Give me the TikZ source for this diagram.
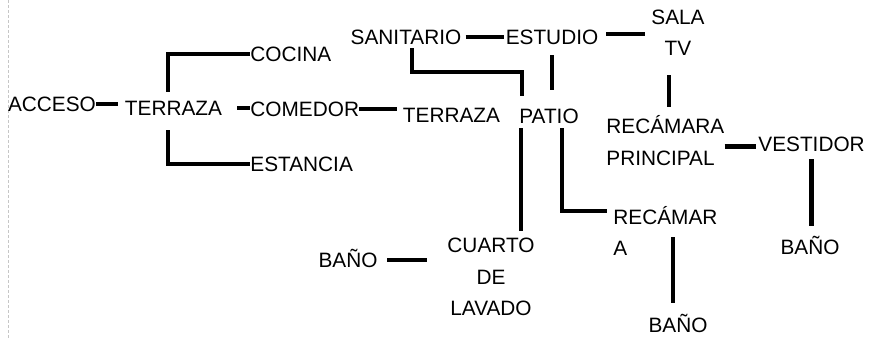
\documentclass[tikz,border=0pt]{standalone}
\usepackage{fontspec}
\setmainfont{Liberation Sans}

\begin{document}
\begin{tikzpicture}[x=0.5pt, y=-0.5pt,
        room/.style={font=\fontsize{10.4}{15.7}\selectfont, inner sep=0pt, align=center},
        one/.style={room, text height=7.45pt, text depth=0pt},
        link/.style={line width=2.2pt, black}
    ]
        \useasboundingbox (0,0) rectangle (873,339);
        \draw[gray!45, line width=0.5pt, dash pattern=on 1.5pt off 1pt] (8,0) -- (8,339);

        % Entrance wing
        \node[one] (acceso) at (52, 104) {ACCESO};
        \node[one] (terrA) at (173.5, 108) {TERRAZA};
        \node[one, anchor=west] (cocina) at (250, 54) {COCINA};
        \node[one, anchor=west] (comedor) at (250, 109) {COMEDOR};
        \node[one, anchor=west] (estancia) at (250, 164) {ESTANCIA};
        \node[one] (terrB) at (451.5, 115) {TERRAZA};

        % Service wing
        \node[one] (sanitario) at (406, 37) {SANITARIO};
        \node[one] (estudio) at (552, 37) {ESTUDIO};
        \node[one] (patio) at (549, 116) {PATIO};
        \node[room] (cuarto) at (491, 277) {CUARTO\\DE\\LAVADO};
        \node[one] (banoL) at (348, 260) {BAÑO};

        % Bedroom wing
        \node[room] (salatv) at (678, 33) {SALA\\TV};
        \node[room, align=left, anchor=west] (recprin) at (606, 140.5) {RECÁMARA\\PRINCIPAL};
        \node[one, anchor=west] (vestidor) at (758, 144) {VESTIDOR};
        \node[one] (banoV) at (810, 247.5) {BAÑO};
        \node[room, align=left, anchor=west] (recamara) at (613, 230.7) {RECÁMAR\\A};
        \node[one] (banoR) at (678, 325) {BAÑO};

        % Connections
        \draw[link, shorten >=3.5pt] (acceso.east) -- (acceso.east -| terrA.west);
        \draw[link, shorten <=4.3pt] ([xshift=-2.75pt]terrA.north) |- (cocina.west);
        \draw[link, shorten <=7.3pt] ([xshift=-2.75pt]terrA.south) |- (estancia.west);
        \draw[link, shorten <=7.5pt] (terrA.east) -- (terrA.east -| comedor.west);
        \draw[link, shorten >=3pt] (comedor.east) -- (comedor.east -| terrB.west);
        \draw[link, shorten <=2pt, shorten >=0.5pt] (sanitario.east) -- (sanitario.east -| estudio.west);
        \draw[link, shorten <=1.8pt, shorten >=6.3pt] ([xshift=3pt]sanitario.south) -- ++(0,27) -| ([xshift=1.5pt]patio.north west);
        \draw[link, shorten <=5.3pt, shorten >=9.3pt] (estudio.south) -- (estudio.south |- patio.north);
        \draw[link, shorten <=3.9pt, shorten >=3.2pt] ([yshift=1.5pt]estudio.east) -- ([yshift=1.5pt]estudio.east -| salatv.west);
        \draw[link, shorten <=9.4pt, shorten >=4.3pt] ([xshift=-4.5pt]salatv.south) -- ([xshift=-4.5pt]salatv.south |- recprin.north);
        \draw[link, shorten >=1pt] ([yshift=-3pt]recprin.east) -- ([yshift=-3pt]recprin.east -| vestidor.west);
        \draw[link, shorten <=3.8pt, shorten >=7pt] (vestidor.south) -- (vestidor.south |- banoV.north);
        \draw[link, shorten <=2.3pt, shorten >=3.6pt] ([xshift=-14pt]patio.south) -- ([xshift=-14pt]patio.south |- cuarto.north);
        \draw[link, shorten <=2.3pt, shorten >=3pt] ([xshift=6.5pt]patio.south) |- ([yshift=-2.7pt]recamara.north west);
        \draw[link, shorten <=4.7pt, shorten >=10pt] (banoL.east) -- (banoL.east -| cuarto.west);
        \draw[link, shorten <=7.3pt, shorten >=15.7pt] ([xshift=-2.5pt]banoR.north) -- ([xshift=-2.5pt]banoR.north |- recamara.north);
    \end{tikzpicture}
\end{document}
